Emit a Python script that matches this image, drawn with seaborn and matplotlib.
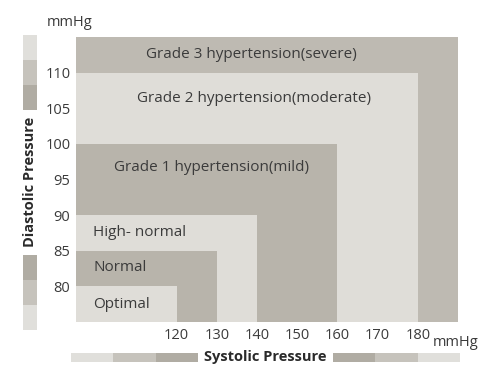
import matplotlib
matplotlib.use("Agg")
import matplotlib.pyplot as plt
import seaborn as sns
from matplotlib.patches import Rectangle

# ---- data ----
categories = ["Optimal", "Normal", "High- normal",
              "Grade 1 hypertension(mild)",
              "Grade 2 hypertension(moderate)",
              "Grade 3 hypertension(severe)"]
systolic_upper = [120, 130, 140, 160, 180, 190]
diastolic_upper = [80, 85, 90, 100, 110, 115]
systolic_ticks = [120, 130, 140, 150, 160, 170, 180]
diastolic_ticks = [80, 85, 90, 95, 100, 105, 110]
x_min, y_min = 95, 75

sns.set_theme(style="white")
plt.rcParams['font.family'] = ['Open Sans', 'DejaVu Sans']

DARK = "#b8b4ab"
DARK3 = "#bebab2"
LIGHT = "#dfddd8"
TXT = "#3b3b3b"
band_colors = [LIGHT, DARK, LIGHT, DARK, LIGHT, DARK3]

fig = plt.figure(figsize=(5, 3.9), dpi=100)
ax = fig.add_axes([0.152, 0.1744, 0.764, 0.7308])

# draw from largest to smallest
for i in range(len(categories) - 1, -1, -1):
    ax.bar(x_min, diastolic_upper[i] - y_min, width=systolic_upper[i] - x_min,
           bottom=y_min, align="edge", color=band_colors[i], linewidth=0)

ax.set_xlim(x_min, max(systolic_upper))
ax.set_ylim(y_min, max(diastolic_upper))
ax.set_xticks(systolic_ticks)
ax.set_yticks(diastolic_ticks)
ax.tick_params(axis="both", length=0, labelsize=10.5, colors=TXT)
ax.tick_params(axis="x", pad=4)
ax.tick_params(axis="y", pad=4)
for s in ax.spines.values():
    s.set_visible(False)

fs = 11
ax.text(138.5, 112.5, categories[5], ha="center", va="center", fontsize=fs, color=TXT)
ax.text(139.3, 106.4, categories[4], ha="center", va="center", fontsize=fs, color=TXT)
ax.text(128.6, 96.75, categories[3], ha="center", va="center", fontsize=fs, color=TXT)
ax.text(99.2, 87.5, categories[2], ha="left", va="center", fontsize=fs, color=TXT)
ax.text(99.4, 82.6, categories[1], ha="left", va="center", fontsize=fs, color=TXT)
ax.text(99.2, 77.5, categories[0], ha="left", va="center", fontsize=fs, color=TXT)

# decorative units and axis titles
W, H = 500.0, 390.0
def fx(px): return px / W
def fy(py): return 1 - py / H

fig.text(fx(70), fy(23), "mmHg", ha="center", va="center", fontsize=10.5, color=TXT)
fig.text(fx(456), fy(343), "mmHg", ha="center", va="center", fontsize=10.5, color=TXT)
fig.text(fx(30), fy(182), "Diastolic Pressure", rotation=90, ha="center", va="center",
         fontsize=10.5, fontweight="bold", color="#2a2a2a")
fig.text(fx(265), fy(357), "Systolic Pressure", ha="center", va="center",
         fontsize=10.5, fontweight="bold", color="#2a2a2a")

BL, BM, BD = "#e0dfdb", "#c6c3bc", "#b0aca3"
def frect(x0, y0, x1, y1, c):
    fig.patches.append(Rectangle((fx(x0), fy(y1)), fx(x1) - fx(x0), fy(y0) - fy(y1),
                                 transform=fig.transFigure, color=c, linewidth=0))
# left vertical bars
frect(23, 35, 37, 60, BL); frect(23, 60, 37, 85, BM); frect(23, 85, 37, 110, BD)
frect(23, 255, 37, 280, BD); frect(23, 280, 37, 305, BM); frect(23, 305, 37, 330, BL)
# bottom horizontal bars
frect(71, 353, 113, 362, BL); frect(113, 353, 156, 362, BM); frect(156, 353, 198, 362, BD)
frect(333, 353, 375, 362, BD); frect(375, 353, 418, 362, BM); frect(418, 353, 460, 362, BL)

fig.savefig("out.png", dpi=100, facecolor="white")
